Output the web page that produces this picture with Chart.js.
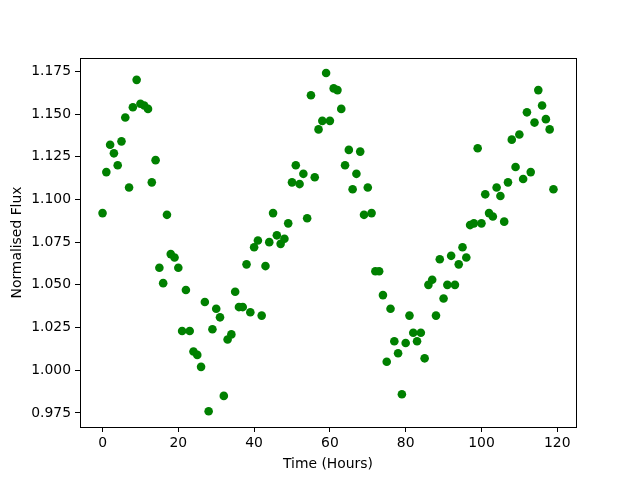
<!DOCTYPE html>
<html>
<head>
<meta charset="utf-8">
<script src="https://cdn.jsdelivr.net/npm/chart.js@4"></script>
<style>
  html, body { margin: 0; padding: 0; background: #fff; }
  canvas { display: block; }
</style>
</head>
<body>
<canvas id="fluxChart" width="640" height="480"></canvas>
<script>
// hours 0..119
const hours = Array.from({ length: 120 }, (_, i) => i);
const flux = [
  1.092, 1.116, 1.132, 1.127, 1.120, 1.134, 1.148, 1.107, 1.154, 1.170,
  1.156, 1.155, 1.153, 1.110, 1.123, 1.060, 1.051, 1.091, 1.068, 1.066,
  1.060, 1.023, 1.047, 1.023, 1.011, 1.009, 1.002, 1.040, 0.976, 1.024,
  1.036, 1.031, 0.985, 1.018, 1.021, 1.046, 1.037, 1.037, 1.062, 1.034,
  1.072, 1.076, 1.032, 1.061, 1.075, 1.092, 1.079, 1.074, 1.077, 1.086,
  1.110, 1.120, 1.109, 1.115, 1.089, 1.161, 1.113, 1.141, 1.146, 1.174,
  1.146, 1.165, 1.164, 1.153, 1.120, 1.129, 1.106, 1.115, 1.128, 1.091,
  1.107, 1.092, 1.058, 1.058, 1.044, 1.005, 1.036, 1.017, 1.010, 0.986,
  1.016, 1.032, 1.022, 1.017, 1.022, 1.007, 1.050, 1.053, 1.032, 1.065,
  1.042, 1.050, 1.067, 1.050, 1.062, 1.072, 1.066, 1.085, 1.086, 1.130,
  1.086, 1.103, 1.092, 1.090, 1.107, 1.102, 1.087, 1.110, 1.135, 1.119,
  1.138, 1.112, 1.151, 1.116, 1.145, 1.164, 1.155, 1.147, 1.141, 1.106
];
const xTicks = [0, 20, 40, 60, 80, 100, 120];
const yTicks = [0.975, 1.000, 1.025, 1.050, 1.075, 1.100, 1.125, 1.150, 1.175];

const FONT = { family: 'DejaVu Sans', size: 13.9 };

// matplotlib-style box around the axes
const frame = {
  id: 'frame',
  afterDraw(chart) {
    const { ctx, chartArea: a } = chart;
    ctx.save();
    ctx.strokeStyle = '#000';
    ctx.lineWidth = 1;
    ctx.strokeRect(a.left + 0.5, a.top + 0.5, a.right - a.left, a.bottom - a.top);
    ctx.restore();
  }
};

new Chart(document.getElementById('fluxChart').getContext('2d'), {
  type: 'scatter',
  data: {
    datasets: [{
      data: hours.map((h, i) => ({ x: h, y: flux[i] })),
      backgroundColor: '#008000',
      borderWidth: 0,
      pointRadius: 4.3,
      pointHoverRadius: 4.3
    }]
  },
  options: {
    responsive: false,
    animation: false,
    events: [],
    layout: { padding: { top: 58, right: 64, left: 0, bottom: 0 } },
    plugins: { legend: { display: false }, tooltip: { enabled: false } },
    scales: {
      x: {
        type: 'linear',
        min: -5.95,
        max: 124.95,
        afterBuildTicks: s => { s.ticks = xTicks.map(v => ({ value: v })); },
        afterFit: s => { s.height = 53; },
        grid: { drawOnChartArea: false, drawTicks: true, tickLength: 5, color: '#000' },
        border: { display: true, color: '#000' },
        ticks: { color: '#000', font: FONT, padding: 3, maxRotation: 0 },
        title: { display: true, text: 'Time (Hours)', color: '#000', font: FONT, padding: { top: 2, bottom: 7 } }
      },
      y: {
        min: 0.9668,
        max: 1.1828,
        afterBuildTicks: s => { s.ticks = yTicks.map(v => ({ value: v })); },
        afterFit: s => { s.width = 80; },
        grid: { drawOnChartArea: false, drawTicks: true, tickLength: 5, color: '#000' },
        border: { display: true, color: '#000' },
        ticks: { color: '#000', font: FONT, padding: 4, callback: v => v.toFixed(3) },
        title: { display: true, text: 'Normalised Flux', color: '#000', font: FONT, padding: { top: 9, bottom: 4 } }
      }
    }
  },
  plugins: [frame]
});
</script>
</body>
</html>
